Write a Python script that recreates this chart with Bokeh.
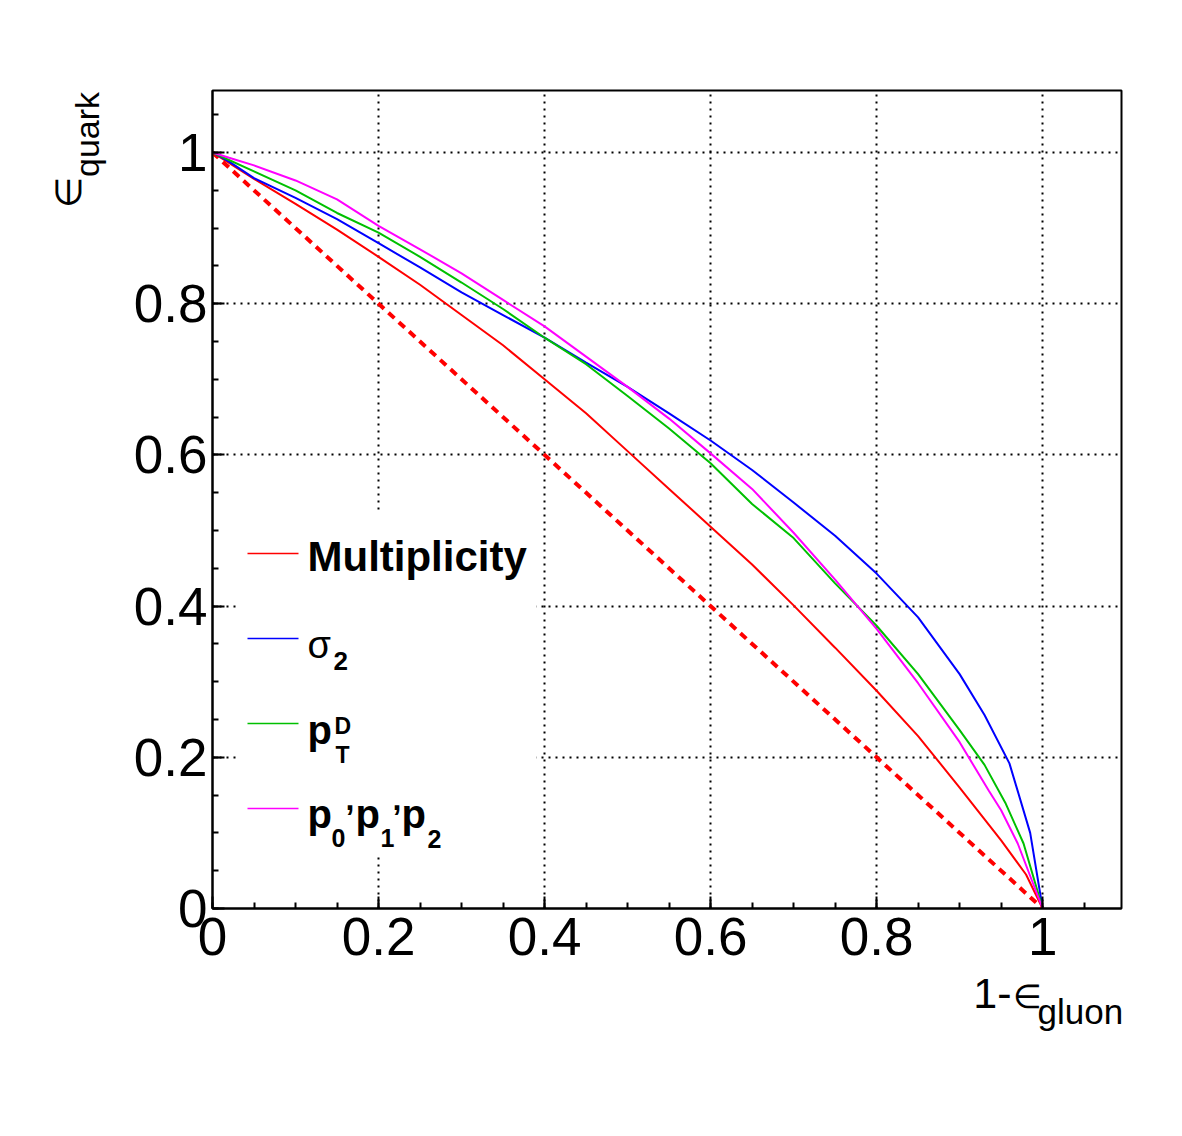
import math
from bokeh.plotting import figure
from bokeh.layouts import row, column
from bokeh.models import FixedTicker, Label, BoxAnnotation, Range1d, CustomJSTickFormatter
from bokeh.embed import file_html
from bokeh.resources import INLINE

# ---- data ----
mult_x = [0, 0.05, 0.1, 0.15, 0.2, 0.25, 0.3, 0.35, 0.4, 0.45, 0.5, 0.55, 0.6, 0.65, 0.7, 0.75, 0.8, 0.85, 0.9, 0.95, 0.98, 1.0]
mult_y = [1, 0.965, 0.932, 0.898, 0.862, 0.825, 0.785, 0.745, 0.700, 0.655, 0.605, 0.555, 0.505, 0.455, 0.401, 0.345, 0.288, 0.228, 0.160, 0.090, 0.045, 0]

sigma_x = [0, 0.02, 0.05, 0.1, 0.15, 0.2, 0.25, 0.3, 0.35, 0.4, 0.45, 0.5, 0.55, 0.6, 0.65, 0.7, 0.75, 0.8, 0.85, 0.9, 0.93, 0.96, 0.985, 1.0]
sigma_y = [1, 0.988, 0.966, 0.940, 0.912, 0.880, 0.848, 0.815, 0.785, 0.755, 0.722, 0.690, 0.655, 0.619, 0.580, 0.537, 0.493, 0.443, 0.385, 0.310, 0.256, 0.192, 0.100, 0]

ptd_x = [0, 0.05, 0.1, 0.15, 0.2, 0.25, 0.3, 0.35, 0.4, 0.45, 0.5, 0.55, 0.6, 0.65, 0.7, 0.75, 0.8, 0.85, 0.9, 0.93, 0.955, 0.977, 1.0]
ptd_y = [1, 0.975, 0.950, 0.920, 0.894, 0.862, 0.828, 0.793, 0.755, 0.720, 0.678, 0.635, 0.589, 0.535, 0.490, 0.430, 0.374, 0.310, 0.236, 0.190, 0.140, 0.086, 0]

p012_x = [0, 0.02, 0.05, 0.1, 0.15, 0.2, 0.25, 0.3, 0.35, 0.4, 0.45, 0.5, 0.55, 0.6, 0.65, 0.7, 0.75, 0.8, 0.85, 0.9, 0.935, 0.95, 0.97, 1.0]
p012_y = [1, 0.993, 0.983, 0.963, 0.938, 0.903, 0.872, 0.840, 0.805, 0.770, 0.730, 0.690, 0.648, 0.602, 0.555, 0.497, 0.435, 0.370, 0.298, 0.220, 0.156, 0.130, 0.086, 0]

diag_x = [0, 1]
diag_y = [1, 0]

major_ticks = [0, 0.2, 0.4, 0.6, 0.8, 1.0]
minor_ticks = [round(0.05 * i, 2) for i in range(0, 22)]

# ---- page layout (pixels, top-left origin) ----
W, H = 1182, 1136
STRIP_W = 110            # left strip holding the y title
MAIN_H = 969             # height of the main figure
FL, FR, FT, FB = 212, 1121, 90, 908   # frame edges on the page
FW, FH = FR - FL, FB - FT
X0, X1 = 0.0, 1.095
Y0, Y1 = 0.0, 1.082
FONT = "Liberation Sans"
MID = 0.36   # baseline lies this many em below the "middle" anchor


def dx(px):
    return X0 + (px - FL) * (X1 - X0) / FW


def dy(py):
    return Y0 + (FB - py) * (Y1 - Y0) / FH


def add_label(fig, fx0, fyb, text, px, py, size, bold=True, align="left", angle=0.0, centered=False):
    # (px, py): page position of the text baseline start (or its visual centre if centered)
    # (fx0, fyb): page position of the figure frame's bottom-left corner
    ay = py if centered else py - MID * size
    fig.add_layout(Label(x=px - fx0, y=fyb - ay, x_units="screen", y_units="screen",
                         text=text, text_font=FONT,
                         text_font_size=f"{size}px", text_font_style="bold" if bold else "normal",
                         text_align="center" if centered else align, text_baseline="middle",
                         text_color="black", angle=angle))


def blank_fig(w, h):
    f = figure(width=w, height=h, x_range=Range1d(0, 1), y_range=Range1d(0, 1),
               output_backend="svg", toolbar_location=None,
               x_axis_location=None, y_axis_location=None,
               min_border_left=0, min_border_right=0, min_border_top=0, min_border_bottom=0)
    f.outline_line_color = None
    f.background_fill_color = "white"
    f.border_fill_color = "white"
    f.grid.visible = False
    return f


# ---- main figure ----
p = figure(width=W - STRIP_W, height=MAIN_H, x_range=Range1d(X0, X1), y_range=Range1d(Y0, Y1),
           output_backend="svg", toolbar_location=None,
           min_border_left=FL - STRIP_W, min_border_right=W - FR,
           min_border_top=FT, min_border_bottom=MAIN_H - FB)
p.background_fill_color = "white"
p.border_fill_color = "white"
p.outline_line_color = "black"
p.outline_line_width = 2

fmt = CustomJSTickFormatter(code="var s = tick.toFixed(1); return s.endsWith('.0') ? s.slice(0, -2) : s;")
for ax in (p.xaxis[0], p.yaxis[0]):
    ax.ticker = FixedTicker(ticks=major_ticks, minor_ticks=minor_ticks)
    ax.formatter = fmt
    ax.axis_line_width = 2
    ax.axis_line_color = "black"
    ax.major_tick_in = 12
    ax.major_tick_out = 0
    ax.minor_tick_in = 6
    ax.minor_tick_out = 0
    ax.major_tick_line_width = 2
    ax.minor_tick_line_width = 2
    ax.major_tick_line_color = "black"
    ax.minor_tick_line_color = "black"
    ax.major_label_text_font = FONT
    ax.major_label_text_font_size = "53px"
    ax.major_label_text_color = "black"
p.xaxis[0].major_label_standoff = 9
p.yaxis[0].major_label_standoff = 5

for g in (p.xgrid[0], p.ygrid[0]):
    g.grid_line_color = "black"
    g.grid_line_dash = "2 5"
    g.grid_line_width = 2

# ---- curves ----
p.line(diag_x, diag_y, line_color="#ff0000", line_width=4, line_dash="8 6")
p.line(mult_x, mult_y, line_color="#ff0000", line_width=2)
p.line(sigma_x, sigma_y, line_color="#0000ff", line_width=2)
p.line(ptd_x, ptd_y, line_color="#00c000", line_width=2)
p.line(p012_x, p012_y, line_color="#ff00ff", line_width=2)

# ---- legend (manual, to allow sub/superscripts) ----
p.add_layout(BoxAnnotation(left=dx(236), right=dx(536), top=dy(510), bottom=dy(853),
                           fill_color="white", fill_alpha=1.0, line_alpha=0.0))

leg_colors = ["#ff0000", "#0000ff", "#00c000", "#ff00ff"]
leg_rows = [553, 638, 723, 808]
for c, ry in zip(leg_colors, leg_rows):
    p.segment(x0=[dx(247)], y0=[dy(ry)], x1=[dx(298)], y1=[dy(ry)],
              line_color=c, line_width=1.5, level="overlay")


def lab(text, px, py, size, bold=True, align="left"):
    add_label(p, FL, FB, text, px, py, size, bold, align)


lab("Multiplicity", 307, 571, 42)
lab("σ", 307, 658, 38, bold=False)
lab("2", 333, 670, 26)
lab("p", 307, 744, 40)
lab("D", 334, 734, 23)
lab("T", 335, 763, 23)
lab("p", 307, 828, 40)
lab("0", 331, 846, 25)
lab(",", 345, 810, 32)
lab("p", 355, 828, 40)
lab("1", 380, 846, 25)
lab(",", 392, 810, 32)
lab("p", 401, 828, 40)
lab("2", 427, 847, 25)

# ---- y title strip (rotated, anchored at visual centres; its frame is aligned with the main one) ----
ystrip = blank_fig(STRIP_W, MAIN_H)
add_label(ystrip, 0, FB, "∈", 68, 192, 36, bold=False, angle=math.pi / 2, centered=True)
add_label(ystrip, 0, FB, "quark", 86, 134, 34, bold=False, angle=math.pi / 2, centered=True)

# ---- x title strip ----
xstrip = blank_fig(W, H - MAIN_H)
add_label(xstrip, 0, H, "1-", 1011, 1008, 43, bold=False, align="right")
add_label(xstrip, 0, H, "∈", 1012, 1008, 33, bold=False, align="left")
add_label(xstrip, 0, H, "gluon", 1037, 1024, 35, bold=False, align="left")

layout = column(row(ystrip, p, spacing=0), xstrip, spacing=0)

open("out.html", "w").write(file_html(layout, INLINE))
